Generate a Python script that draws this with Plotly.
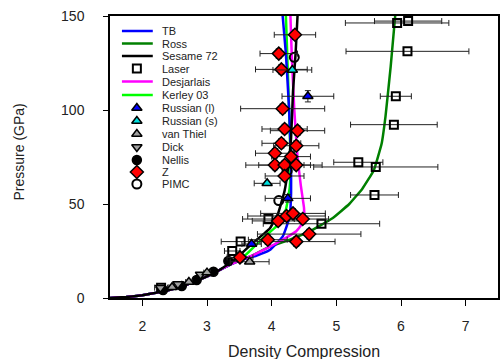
import plotly.graph_objects as go

# ---------------- data ----------------
tb_x = [1.5, 1.75, 2.0, 2.25, 2.5, 2.75, 3.0, 3.2, 3.4, 3.6, 3.76, 3.97, 4.17, 4.28, 4.30, 4.30, 4.27, 4.22, 4.17]
tb_y = [0, 0.5, 1.5, 3, 5, 8, 11.5, 15, 18.4, 21, 22.5, 25.5, 32.6, 43.3, 55.7, 70, 100, 130, 150]

ross_x = [1.5, 1.75, 2.0, 2.25, 2.5, 2.75, 3.0, 3.2, 3.4, 3.66, 3.97, 4.28, 4.58, 4.94, 5.2, 5.4, 5.58, 5.7, 5.76, 5.84, 5.91]
ross_y = [0, 0.5, 1.5, 3, 5, 8, 11.5, 15, 18.4, 22, 27.3, 31, 35.3, 42.4, 50, 58, 68, 82, 96.5, 123, 150]

sesame_x = [1.5, 1.75, 2.0, 2.25, 2.5, 2.75, 3.0, 3.2, 3.45, 3.7, 3.97, 4.1, 4.2, 4.25, 4.3, 4.33, 4.37, 4.4]
sesame_y = [0, 0.5, 1.5, 3, 5, 8, 11.5, 15, 21, 29, 37, 45, 57, 68, 85, 110, 130, 150]

desj_x = [1.5, 1.75, 2.0, 2.25, 2.5, 2.75, 3.0, 3.2, 3.4, 3.66, 3.87, 4.17, 4.38, 4.50, 4.50, 4.45, 4.40, 4.35, 4.31, 4.29]
desj_y = [0, 0.5, 1.5, 3, 5, 8, 11.5, 15, 18.4, 22, 25.5, 31, 35.5, 41, 48, 60, 75, 100, 130, 150]

kerley_x = [1.5, 1.75, 2.0, 2.25, 2.5, 2.75, 3.0, 3.2, 3.4, 3.6, 3.87, 4.07, 4.22, 4.28, 4.29, 4.27, 4.24, 4.22]
kerley_y = [0, 0.5, 1.5, 3, 5, 8, 11.5, 15, 18.4, 23, 32, 38, 47, 59, 75, 100, 130, 150]

laser_x = [2.29, 3.39, 3.52, 3.95, 4.77, 5.59, 5.61, 5.34, 5.89, 5.92, 6.10, 5.94, 6.11]
laser_y = [5.5, 25, 30, 42, 39.5, 54.8, 69.7, 72.2, 92.2, 107.3, 131.2, 146.3, 147.3]
laser_ex = [0.1, 0.12, 0.3, 0.4, 0.9, 0.37, 0.96, 0.38, 0.67, 0.24, 0.95, 0.8, 0.52]

rusl_x = [3.69, 4.25, 4.56]
rusl_y = [28.7, 53, 107.3]
rusl_ex = [0.15, 0.35, 0.4]
rusl_ey = [1, 2, 3]

russ_x = [3.93, 4.32]
russ_y = [61, 121.3]
russ_ex = [0.2, 0.3]

vt_x = [2.46, 2.72, 3.0, 3.66]
vt_y = [5.7, 8.5, 13.5, 19.3]
vt_ex = [0.05, 0.05, 0.05, 0.3]

dick_x = [2.28, 2.55, 2.9]
dick_y = [5.5, 7.5, 12.5]

nellis_x = [2.32, 2.61, 2.84, 3.10, 3.33]
nellis_y = [4.3, 6.4, 9.6, 14, 19.7]

z_x = [4.36, 4.11, 4.15, 4.17, 4.20, 4.40, 4.15, 4.38, 4.05, 4.30, 4.05, 4.20, 4.38, 4.20,
       4.23, 4.33, 4.10, 4.48, 4.58, 4.38, 3.94, 3.51]
z_y = [140, 130, 121.6, 100.7, 89.9, 89, 82.3, 81, 77, 75.2, 70.7, 70.7, 70.7, 64.9,
       43.6, 45, 41, 42, 34, 30, 31, 21.6]
z_ex = [0.32, 0.29, 0.4, 0.65, 0.35, 0.42, 0.3, 0.35, 0.3, 0.3, 0.45, 0.4, 0.4, 0.3,
        0.6, 0.5, 0.4, 0.4, 0.8, 0.6, 0.3, 0.2]

pimc_x = [4.11, 4.24, 4.35]
pimc_y = [51.8, 67.6, 128]

legend_names = ["TB", "Ross", "Sesame 72", "Laser", "Desjarlais", "Kerley 03",
                "Russian (l)", "Russian (s)", "van Thiel", "Dick", "Nellis", "Z", "PIMC"]

# ---------------- styles ----------------
FONT = "Liberation Sans, Arial, sans-serif"
ERR = dict(type="data", color="#222222", thickness=1, width=3)

fig = go.Figure()

def line_trace(x, y, color):
    fig.add_trace(go.Scatter(x=x, y=y, mode="lines", line=dict(color=color, width=2.5, shape="spline", smoothing=0.3),
                             showlegend=False, hoverinfo="skip"))

line_trace(ross_x, ross_y, "#008000")
line_trace(kerley_x, kerley_y, "#00ff00")
line_trace(tb_x, tb_y, "#0000ff")
line_trace(desj_x, desj_y, "#ff00ff")
line_trace(sesame_x, sesame_y, "#000000")

def pts(x, y, symbol, fill, size, ex=None, ey=None, lw=1.5):
    fig.add_trace(go.Scatter(
        x=x, y=y, mode="markers",
        marker=dict(symbol=symbol, color=fill, size=size, line=dict(color="black", width=lw)),
        error_x=dict(array=ex, **ERR) if ex is not None else None,
        error_y=dict(array=ey, **ERR) if ey is not None else None,
        showlegend=False))

pts(laser_x, laser_y, "square-open", "black", 8, ex=laser_ex, lw=2)
pts(nellis_x, nellis_y, "circle", "black", 9)
pts(dick_x, dick_y, "triangle-down", "#a0a0a0", 9)
pts(vt_x, vt_y, "triangle-up", "#a0a0a0", 9, ex=vt_ex)
pts(pimc_x, pimc_y, "circle-open", "black", 9, lw=2)
pts(z_x, z_y, "diamond", "#ff0000", 10, ex=z_ex, ey=[2.5] * len(z_x))
pts(rusl_x, rusl_y, "triangle-up", "#0000ff", 9, ex=rusl_ex, ey=rusl_ey)
pts(russ_x, russ_y, "triangle-up", "#00e0e0", 9, ex=russ_ex)

# ---------------- custom compact legend (overlay axes in pixel units) ----------------
leg_y = [31, 43.5, 56, 68.5, 81.5, 95, 108, 121, 134, 147, 160, 172, 184]
leg_kind = [("line", "#0000ff"), ("line", "#008000"), ("line", "#000000"),
            ("marker", ("square-open", "black", 8, 2)), ("line", "#ff00ff"), ("line", "#00ff00"),
            ("marker", ("triangle-up", "#0000ff", 9, 1.5)), ("marker", ("triangle-up", "#00e0e0", 9, 1.5)),
            ("marker", ("triangle-up", "#a0a0a0", 9, 1.5)), ("marker", ("triangle-down", "#a0a0a0", 9, 1.5)),
            ("marker", ("circle", "black", 9, 1.5)), ("marker", ("diamond", "#ff0000", 10, 1.5)),
            ("marker", ("circle-open", "black", 9, 2))]
for yy, (kind, spec) in zip(leg_y, leg_kind):
    if kind == "line":
        fig.add_trace(go.Scatter(x=[122, 153], y=[yy, yy], mode="lines", line=dict(color=spec, width=2.5),
                                 xaxis="x2", yaxis="y2", showlegend=False, hoverinfo="skip"))
    else:
        sym, col, sz, lw = spec
        fig.add_trace(go.Scatter(x=[137], y=[yy], mode="markers",
                                 marker=dict(symbol=sym, color=col, size=sz, line=dict(color="black", width=lw)),
                                 xaxis="x2", yaxis="y2", showlegend=False, hoverinfo="skip"))

annotations = []
for yy, name in zip(leg_y, legend_names):
    annotations.append(dict(x=160, y=yy, xref="x2", yref="y2", text=name, showarrow=False,
                            xanchor="left", yanchor="middle", font=dict(family=FONT, size=11, color="#222")))

annotations.append(dict(x=0.5, y=(298 - 351) / 282, xref="paper", yref="paper", text="Density Compression",
                        showarrow=False, xanchor="center", yanchor="middle",
                        font=dict(family=FONT, size=16, color="#222")))
annotations.append(dict(x=(19 - 110) / 390, y=(298 - 152) / 282, xref="paper", yref="paper", text="Pressure (GPa)",
                        showarrow=False, xanchor="center", yanchor="middle", textangle=-90,
                        font=dict(family=FONT, size=14, color="#222")))

fig.update_layout(
    width=500, height=359,
    margin=dict(l=110, r=0, t=16, b=61),
    paper_bgcolor="white", plot_bgcolor="white",
    showlegend=False,
    font=dict(family=FONT, color="#222"),
    xaxis=dict(range=[1.5, 7.5], dtick=1, tick0=2, showgrid=False, zeroline=False,
               showline=True, linecolor="black", linewidth=1.5, mirror=True,
               ticks="outside", ticklen=6, tickcolor="black", tickwidth=1.2,
               tickfont=dict(family=FONT, size=14, color="#222"), ticklabelstandoff=8),
    yaxis=dict(range=[0, 150], dtick=50, showgrid=False, zeroline=False,
               showline=True, linecolor="black", linewidth=1.5, mirror=True,
               ticks="outside", ticklen=5, tickcolor="black", tickwidth=1.2,
               tickfont=dict(family=FONT, size=14, color="#222"), ticklabelstandoff=16),
    xaxis2=dict(range=[110, 500], overlaying="x", visible=False, fixedrange=True),
    yaxis2=dict(range=[298, 16], overlaying="y", visible=False, fixedrange=True),
    annotations=annotations,
)

fig.write_html("out.html")
